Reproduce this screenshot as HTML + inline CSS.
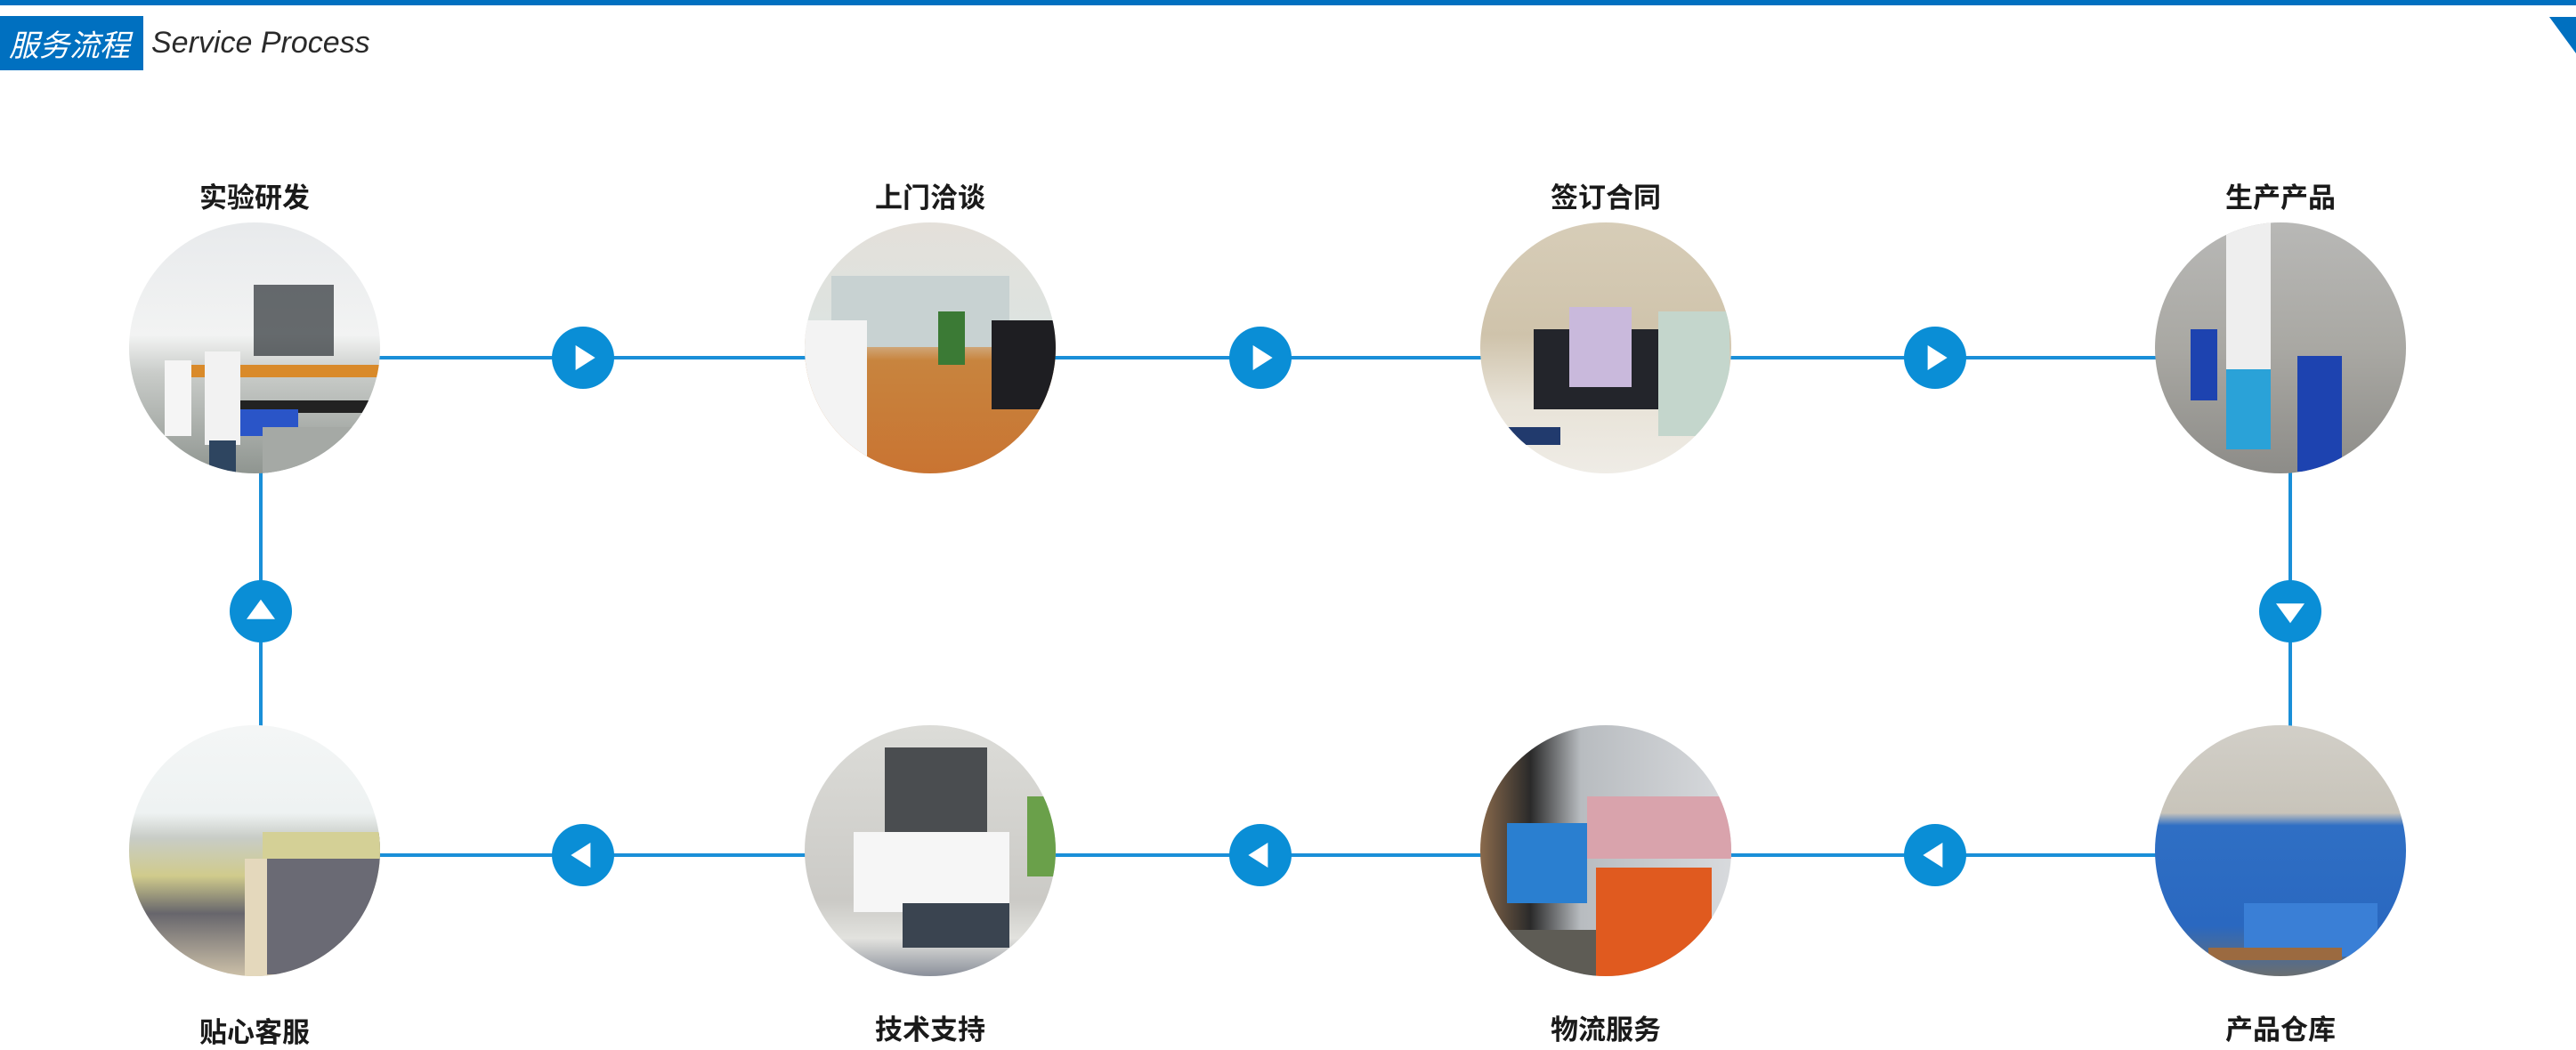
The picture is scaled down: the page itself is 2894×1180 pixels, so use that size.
<!DOCTYPE html>
<html><head><meta charset="utf-8"><style>
*{margin:0;padding:0;box-sizing:border-box}
body{width:2894px;height:1177px;background:#fff;position:relative;overflow:hidden;font-family:"Liberation Sans","Noto Sans CJK SC",sans-serif}
.abs{position:absolute}
.hl{position:absolute;height:4px;background:#1a8fd8}
.vl{position:absolute;width:4px;background:#1a8fd8}
.btn{position:absolute;width:70px;height:70px;border-radius:50%;background:#0a8ed6}
.btn::after{content:"";position:absolute;left:50%;top:50%;width:0;height:0}
.r::after{border-left:22px solid #fff;border-top:14px solid transparent;border-bottom:14px solid transparent;transform:translate(-38%,-50%)}
.l::after{border-right:22px solid #fff;border-top:14px solid transparent;border-bottom:14px solid transparent;transform:translate(-62%,-50%)}
.u::after{border-bottom:22px solid #fff;border-left:16px solid transparent;border-right:16px solid transparent;transform:translate(-50%,-60%)}
.d::after{border-top:22px solid #fff;border-left:16px solid transparent;border-right:16px solid transparent;transform:translate(-50%,-40%)}
.c{position:absolute;width:282px;height:282px;border-radius:50%;overflow:hidden}
.c div{position:absolute}
.lab{position:absolute;width:300px;text-align:center;font-size:31px;font-weight:bold;color:#1a1a1a;line-height:40px;font-family:"Noto Sans CJK SC",sans-serif}
</style></head><body>
<div class="abs" style="left:0;top:0;width:2894px;height:6px;background:#0070c0"></div>
<div class="abs" style="left:0;top:18px;width:161px;height:61px;background:#0070c0;color:#fff;font-size:34px;line-height:61px;padding-left:10px;font-family:'Noto Sans CJK SC',sans-serif;font-style:italic">服务流程</div>
<div class="abs" style="left:170px;top:18px;height:61px;line-height:61px;font-size:34px;font-style:italic;color:#2a2a2a">Service Process</div>
<svg class="abs" style="left:2860px;top:18px" width="34" height="44"><polygon points="4,1 34,1 34,42" fill="#0070c0"/></svg>

<div class="hl" style="left:286px;top:400px;width:2276px"></div>
<div class="hl" style="left:286px;top:959px;width:2276px"></div>
<div class="vl" style="left:291px;top:391px;height:565px"></div>
<div class="vl" style="left:2571px;top:391px;height:565px"></div>

<div class="btn r" style="left:620px;top:367px"></div>
<div class="btn r" style="left:1381px;top:367px"></div>
<div class="btn r" style="left:2139px;top:367px"></div>
<div class="btn l" style="left:620px;top:926px"></div>
<div class="btn l" style="left:1381px;top:926px"></div>
<div class="btn l" style="left:2139px;top:926px"></div>
<div class="btn u" style="left:258px;top:652px"></div>
<div class="btn d" style="left:2538px;top:652px"></div>

<!-- circle 1 lab -->
<div class="c" style="left:145px;top:250px;background:linear-gradient(#e8eaec 0%,#f2f3f3 45%,#c9ccc9 60%,#8f9590 100%)">
<div style="left:140px;top:70px;width:90px;height:80px;background:#2a2f33;opacity:.7"></div>
<div style="left:50px;top:160px;width:240px;height:14px;background:#d98a2a"></div>
<div style="left:90px;top:200px;width:200px;height:14px;background:#222"></div>
<div style="left:110px;top:210px;width:80px;height:30px;background:#2a55c8"></div>
<div style="left:85px;top:145px;width:40px;height:105px;background:#f2f2f2"></div>
<div style="left:40px;top:155px;width:30px;height:85px;background:#f5f5f5"></div>
<div style="left:90px;top:245px;width:30px;height:40px;background:#2e4560"></div>
<div style="left:150px;top:230px;width:140px;height:60px;background:#a5a9a5"></div>
</div>
<!-- circle 2 meeting -->
<div class="c" style="left:904px;top:250px;background:linear-gradient(#e4e0da 0%,#dde3e0 40%,#c8843e 55%,#c97432 100%)">
<div style="left:30px;top:60px;width:200px;height:80px;background:#c8d2d2"></div>
<div style="left:0;top:110px;width:70px;height:180px;background:#f3f3f3"></div>
<div style="left:210px;top:110px;width:80px;height:100px;background:#1e1e22"></div>
<div style="left:150px;top:100px;width:30px;height:60px;background:#3b7a35"></div>
</div>
<!-- circle 3 signing -->
<div class="c" style="left:1663px;top:250px;background:linear-gradient(#d7cdb8 0%,#cfc3ab 45%,#e8e3d8 72%,#efece6 100%)">
<div style="left:60px;top:120px;width:150px;height:90px;background:#23252b"></div>
<div style="left:100px;top:95px;width:70px;height:90px;background:#c9b9dc"></div>
<div style="left:200px;top:100px;width:80px;height:140px;background:#c4d6cc"></div>
<div style="left:30px;top:230px;width:60px;height:20px;background:#213a6d"></div>
</div>
<!-- circle 4 factory -->
<div class="c" style="left:2421px;top:250px;background:linear-gradient(#b8b8b6 0%,#a9a8a3 50%,#8d8c88 100%)">
<div style="left:80px;top:0;width:50px;height:200px;background:#eeeeee"></div>
<div style="left:80px;top:165px;width:50px;height:90px;background:#2aa2d8"></div>
<div style="left:160px;top:150px;width:50px;height:130px;background:#1d43b0"></div>
<div style="left:40px;top:120px;width:30px;height:80px;background:#1d43b0"></div>
</div>
<!-- circle 5 office -->
<div class="c" style="left:145px;top:815px;background:linear-gradient(#f4f6f6 0%,#eef2f2 35%,#c8ccc6 45%,#d0cb8c 60%,#67666c 75%,#ccc0a8 100%)">
<div style="left:150px;top:120px;width:132px;height:160px;background:#6a6a74"></div>
<div style="left:150px;top:120px;width:132px;height:30px;background:#d4d096"></div>
<div style="left:130px;top:150px;width:25px;height:132px;background:#e4d8bc"></div>
</div>
<!-- circle 6 tech -->
<div class="c" style="left:904px;top:815px;background:linear-gradient(#dcdcd8 0%,#cbcac6 70%,#e2e2de 85%,#8a8f9a 100%)">
<div style="left:90px;top:25px;width:115px;height:180px;background:#4a4d50"></div>
<div style="left:55px;top:120px;width:175px;height:90px;background:#f6f6f6"></div>
<div style="left:110px;top:200px;width:120px;height:50px;background:#3a4450"></div>
<div style="left:250px;top:80px;width:40px;height:90px;background:#6aa04a"></div>
</div>
<!-- circle 7 logistics -->
<div class="c" style="left:1663px;top:815px;background:linear-gradient(90deg,#8a6a4c 0%,#2a2a2a 20%,#b8bcc0 40%,#d8dadd 100%)">
<div style="left:30px;top:110px;width:90px;height:90px;background:#2a7fd0"></div>
<div style="left:120px;top:80px;width:162px;height:70px;background:#d9a3ac"></div>
<div style="left:130px;top:160px;width:130px;height:122px;background:#e05a1f"></div>
<div style="left:0;top:230px;width:130px;height:60px;background:#5e5c55"></div>
</div>
<!-- circle 8 warehouse -->
<div class="c" style="left:2421px;top:815px;background:linear-gradient(#d2cfc8 0%,#c8c4ba 35%,#2f6fc4 40%,#2a68c0 80%,#6a6e70 100%)">
<div style="left:100px;top:200px;width:150px;height:60px;background:#3a7fd6"></div>
<div style="left:60px;top:250px;width:150px;height:14px;background:#9b6a40"></div>
</div>

<div class="lab" style="left:136px;top:200px">实验研发</div>
<div class="lab" style="left:895px;top:200px">上门洽谈</div>
<div class="lab" style="left:1654px;top:200px">签订合同</div>
<div class="lab" style="left:2412px;top:200px">生产产品</div>
<div class="lab" style="left:136px;top:1138px">贴心客服</div>
<div class="lab" style="left:895px;top:1135px">技术支持</div>
<div class="lab" style="left:1654px;top:1135px">物流服务</div>
<div class="lab" style="left:2412px;top:1135px">产品仓库</div>
</body></html>
